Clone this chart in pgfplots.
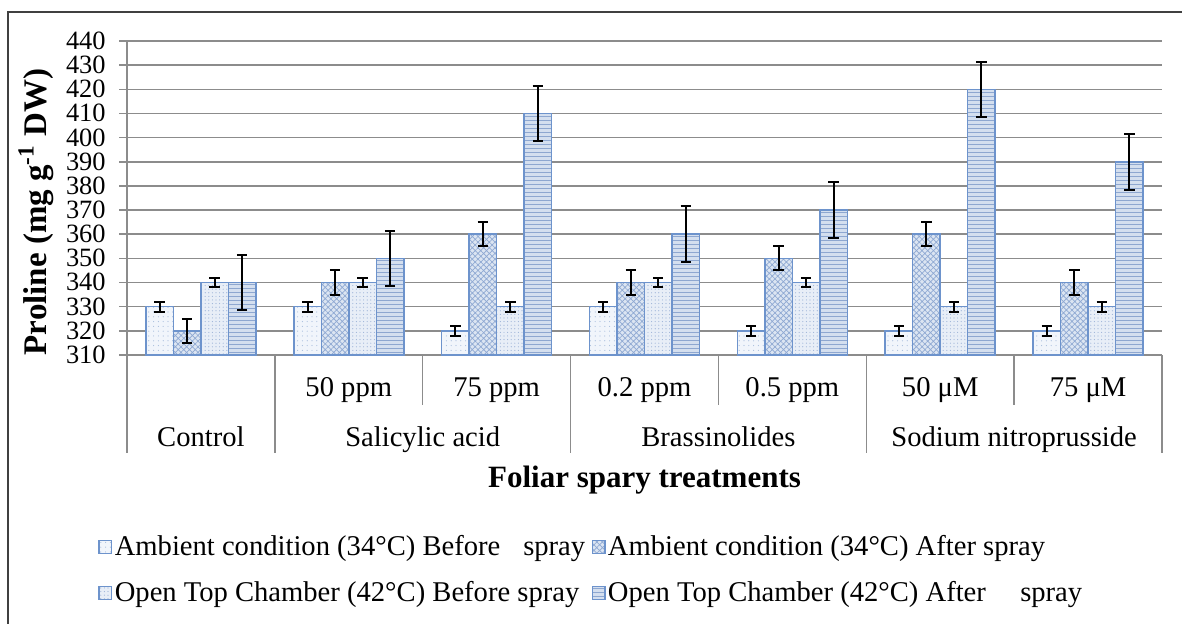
\documentclass[border=0pt]{standalone}
\usepackage{fontspec}
\setmainfont{Liberation Serif}
\usepackage{pgfplots}
\pgfplotsset{compat=1.18}
\usetikzlibrary{patterns.meta}
\definecolor{EDGE}{HTML}{6D93CC}
\definecolor{GRID}{HTML}{8C8C8C}
\definecolor{FA}{HTML}{F1F5FB}
\definecolor{FB}{HTML}{DCE5F2}
\definecolor{FC}{HTML}{E8EEF7}
\definecolor{FD}{HTML}{D4DFEF}
\definecolor{PA}{HTML}{A9BEDD}
\definecolor{PB}{HTML}{8FA9D3}
\definecolor{PC}{HTML}{9DB3D8}
\definecolor{PD}{HTML}{8EA7D0}

\newcommand{\catfont}{\fontsize{14.3}{16}\selectfont}

\begin{document}
\begin{tikzpicture}
\begin{scope}[x=0.5pt,y=-0.5pt]
\draw[line width=1pt, black!75] (8,640) -- (8,12.5) -- (1200,12.5);
\node[rotate=90, font=\fontsize{16.5}{18}\selectfont\bfseries] at (36,212)
  {Proline (mg g\textsuperscript{-1} DW)};
\end{scope}

\begin{axis}[
  at={(63.5pt,-177.5pt)}, anchor=south west,
  scale only axis, width=517.5pt, height=157pt,
  xmin=-0.5, xmax=6.5, ymin=310, ymax=440,
  ytick={310,320,...,440},
  xtick=\empty,
  ymajorgrids, grid style={draw=GRID, line width=0.75pt},
  axis x line*=bottom, axis y line*=left,
  axis line style={draw=GRID, line width=0.75pt, -},
  y tick style={draw=GRID, line width=0.75pt},
  tick align=outside, major tick length=4pt,
  yticklabel style={font=\fontsize{13.2}{13.2}\selectfont, text=black, inner xsep=1pt,
    inner ysep=0pt, text height=8.4pt, text depth=0pt, xshift=-5.5pt},
  /pgf/number format/assume math mode=true,
  ybar=0pt, bar width=0.186,
  clip=false,
  error bars/y dir=both, error bars/y explicit,
  error bars/error bar style={black, line width=1pt},
  error bars/error mark options={black, line width=1pt, mark size=2.6pt, rotate=90},
  legend columns=2,
  legend cell align=left,
  legend image code/.code={\draw[#1, line width=0.6pt] (0pt,-3.2pt) rectangle (6.4pt,3.2pt);},
  legend style={at={([xshift=-17.5pt,yshift=-86pt]axis description cs:0,0)}, anchor=north west,
    draw=none, fill=none, font=\catfont, row sep=7.5pt,
    nodes={inner xsep=1.2pt},
    /tikz/every even column/.append style={column sep=2pt}},
]
\addplot[draw=EDGE, line width=0.75pt, fill=FA,
  postaction={pattern={Dots[distance=2.4pt, radius=0.3pt]}, pattern color=PA}]
  coordinates {(0,330) +- (0,2) (1,330) +- (0,2) (2,320) +- (0,2) (3,330) +- (0,2)
               (4,320) +- (0,2) (5,320) +- (0,2) (6,320) +- (0,2)};
\addplot[draw=EDGE, line width=0.75pt, fill=FB,
  postaction={pattern={Hatch[distance=2pt, angle=45, line width=0.35pt]}, pattern color=PB}]
  coordinates {(0,320) +- (0,5) (1,340) +- (0,5) (2,360) +- (0,5) (3,340) +- (0,5)
               (4,350) +- (0,5) (5,360) +- (0,5) (6,340) +- (0,5)};
\addplot[draw=EDGE, line width=0.75pt, fill=FC,
  postaction={pattern={Dots[distance=1.8pt, radius=0.3pt]}, pattern color=PC}]
  coordinates {(0,340) +- (0,2) (1,340) +- (0,2) (2,330) +- (0,2) (3,340) +- (0,2)
               (4,340) +- (0,2) (5,330) +- (0,2) (6,330) +- (0,2)};
\addplot[draw=EDGE, line width=0.75pt, fill=FD,
  postaction={pattern={Lines[distance=2pt, angle=0, line width=0.4pt]}, pattern color=PD}]
  coordinates {(0,340) +- (0,11.5) (1,350) +- (0,11.5) (2,410) +- (0,11.5) (3,360) +- (0,11.5)
               (4,370) +- (0,11.5) (5,420) +- (0,11.5) (6,390) +- (0,11.5)};
\addlegendentry{Ambient condition (34°C) Before\hspace{0.8em}spray}
\addlegendentry{Ambient condition (34°C) After spray}
\addlegendentry{Open Top Chamber (42°C) Before spray}
\addlegendentry{Open Top Chamber (42°C) After\hspace{1.2em}spray}

% category separators
\draw[GRID, line width=0.75pt] (axis cs:-0.5,310) -- ([yshift=-49pt]axis cs:-0.5,310);
\draw[GRID, line width=0.75pt] (axis cs:0.5,310) -- ([yshift=-49pt]axis cs:0.5,310);
\draw[GRID, line width=0.75pt] (axis cs:2.5,310) -- ([yshift=-49pt]axis cs:2.5,310);
\draw[GRID, line width=0.75pt] (axis cs:4.5,310) -- ([yshift=-49pt]axis cs:4.5,310);
\draw[GRID, line width=0.75pt] (axis cs:6.5,310) -- ([yshift=-49pt]axis cs:6.5,310);
\draw[GRID, line width=0.75pt] (axis cs:1.5,310) -- ([yshift=-25pt]axis cs:1.5,310);
\draw[GRID, line width=0.75pt] (axis cs:3.5,310) -- ([yshift=-25pt]axis cs:3.5,310);
\draw[GRID, line width=0.75pt] (axis cs:5.5,310) -- ([yshift=-25pt]axis cs:5.5,310);

% sub-category labels
\node[font=\catfont, anchor=base] at ([yshift=-20.5pt]axis cs:1,310) {50 ppm};
\node[font=\catfont, anchor=base] at ([yshift=-20.5pt]axis cs:2,310) {75 ppm};
\node[font=\catfont, anchor=base] at ([yshift=-20.5pt]axis cs:3,310) {0.2 ppm};
\node[font=\catfont, anchor=base] at ([yshift=-20.5pt]axis cs:4,310) {0.5 ppm};
\node[font=\catfont, anchor=base] at ([yshift=-20.5pt]axis cs:5,310) {50 μM};
\node[font=\catfont, anchor=base] at ([yshift=-20.5pt]axis cs:6,310) {75 μM};

% group labels
\node[font=\catfont, anchor=base] at ([yshift=-45.5pt]axis cs:0,310) {Control};
\node[font=\catfont, anchor=base] at ([yshift=-45.5pt]axis cs:1.5,310) {Salicylic acid};
\node[font=\catfont, anchor=base] at ([yshift=-45.5pt]axis cs:3.5,310) {Brassinolides};
\node[font=\catfont, anchor=base] at ([yshift=-45.5pt]axis cs:5.5,310) {Sodium nitroprusside};

\node[font=\fontsize{15.5}{17}\selectfont\bfseries, anchor=base] at ([yshift=-66pt]axis cs:3,310)
  {Foliar spary treatments};
\end{axis}

\begin{scope}[x=0.5pt,y=-0.5pt]
\pgfresetboundingbox
\path[use as bounding box] (0,0) rectangle (1182,624);
\end{scope}
\end{tikzpicture}
\end{document}
